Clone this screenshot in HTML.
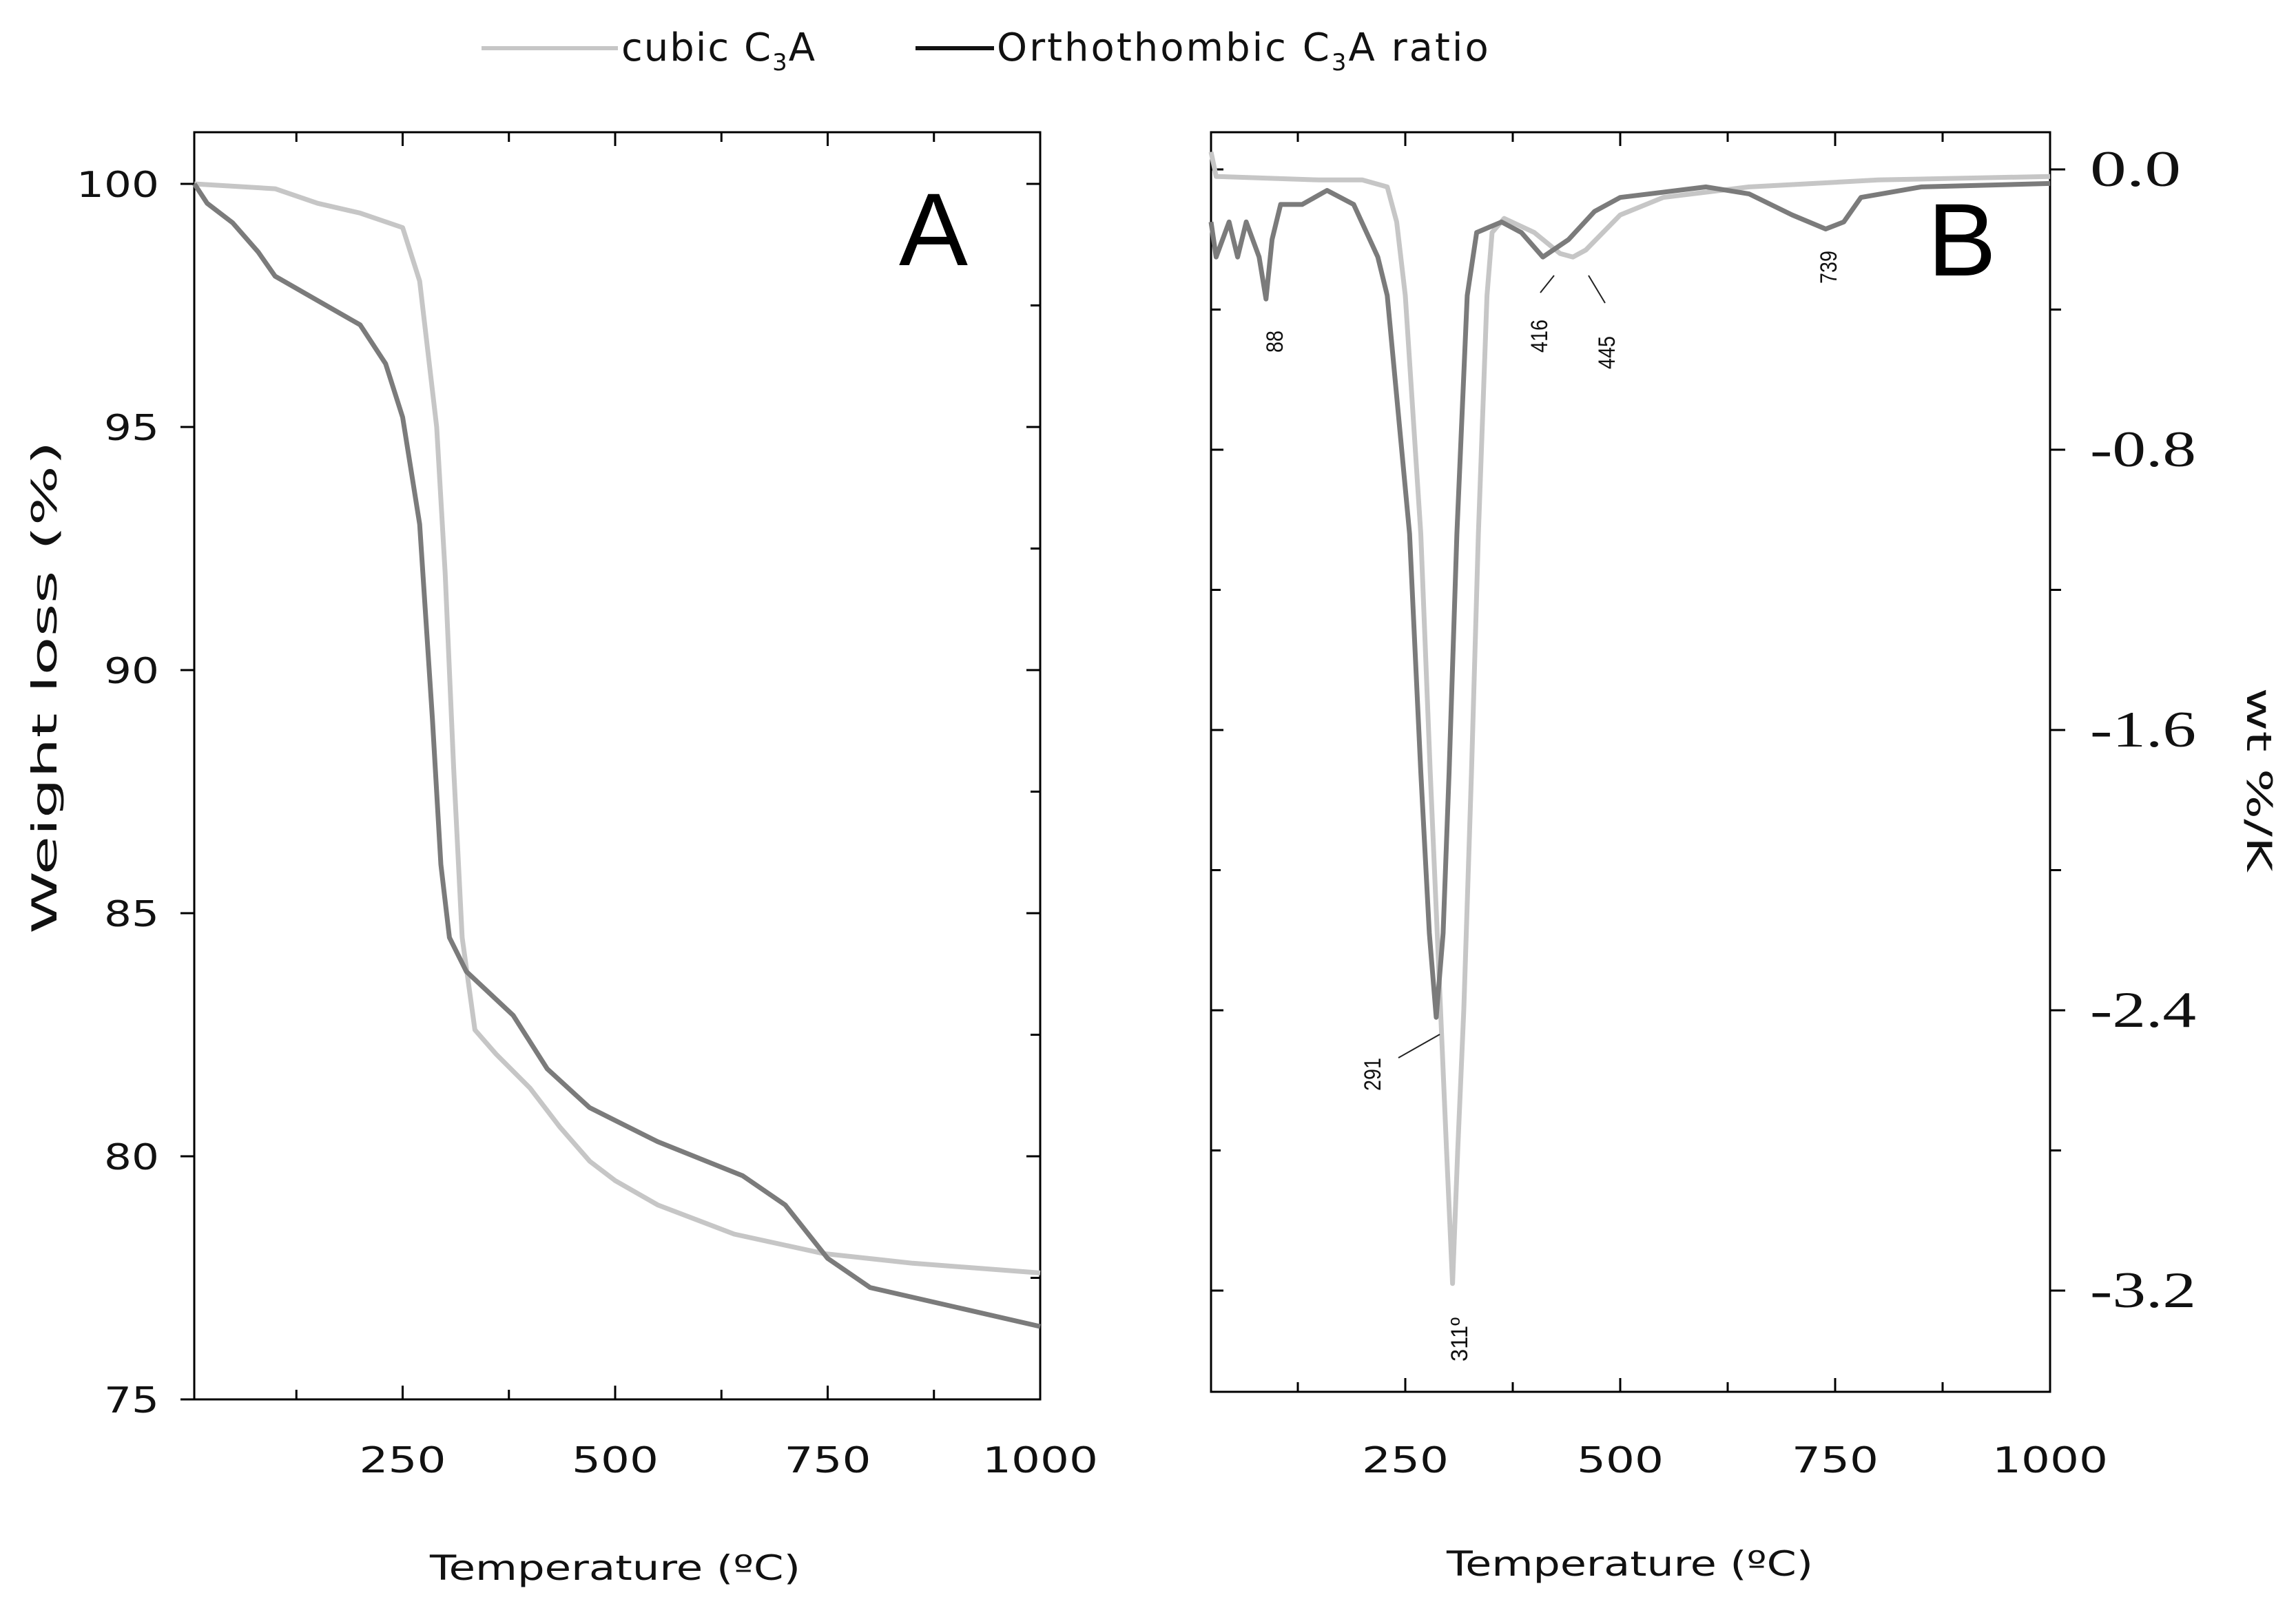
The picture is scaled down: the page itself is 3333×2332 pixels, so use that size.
<!DOCTYPE html>
<html><head><meta charset="utf-8"><style>
html,body{margin:0;padding:0;background:#fff;}
svg{display:block;}
</style></head><body>
<svg id="chart" width="3333" height="2332" viewBox="0 0 3333 2332" xmlns="http://www.w3.org/2000/svg" font-family="DejaVu Sans, Liberation Sans, sans-serif">
</svg>
<script>
// ---- Panel A (TGA) data ----
const aCubicT = [5,100,150,200,250,270,290,300,310,320,335,360,400,435,470,500,550,640,745,850,1000];
const aCubicW = [100,99.9,99.6,99.4,99.1,98,95,92,88,84.5,82.6,82.1,81.4,80.6,79.9,79.5,79.0,78.4,78.0,77.8,77.6];
const aOrthoT = [5,20,50,80,100,150,200,230,250,270,285,295,305,325,380,420,470,550,650,700,750,800,900,1000];
const aOrthoW = [100,99.6,99.2,98.6,98.1,97.6,97.1,96.3,95.2,93,89,86,84.5,83.8,82.9,81.8,81,80.3,79.6,79,77.9,77.3,76.9,76.5];
const aYTicks = [75,80,85,90,95,100];
const aXTicks = [250,500,750,1000];
// ---- Panel B (DTG) data ----
const bCubicT = [24,30,150,200,229,240,250,268,279,291,298,305,311,318,327,335,345,351,365,400,430,445,460,500,550,650,800,1000];
const bCubicD = [0.05,-0.02,-0.03,-0.03,-0.05,-0.15,-0.36,-1.04,-1.72,-2.4,-2.8,-3.18,-2.8,-2.4,-1.72,-1.04,-0.36,-0.18,-0.14,-0.18,-0.24,-0.25,-0.23,-0.13,-0.08,-0.05,-0.03,-0.02];
const bOrthoT = [24,30,45,55,65,80,88,95,105,130,159,190,218,229,255,268,278,286,294,301,310,322,333,362,385,410,440,470,500,600,650,700,739,760,780,850,1000];
const bOrthoD = [-0.15,-0.25,-0.15,-0.25,-0.15,-0.25,-0.37,-0.2,-0.1,-0.1,-0.06,-0.1,-0.25,-0.36,-1.04,-1.72,-2.18,-2.42,-2.18,-1.72,-1.04,-0.36,-0.18,-0.15,-0.18,-0.25,-0.2,-0.12,-0.08,-0.05,-0.07,-0.13,-0.17,-0.15,-0.08,-0.05,-0.04];
const bYTicks = [0.0,-0.8,-1.6,-2.4,-3.2];
const bYLabels = ["0.0","-0.8","-1.6","-2.4","-3.2"];
const bXTicks = [250,500,750,1000];
const bPeakLabels = ["88","291","311º","416","445","739"];

const NS="http://www.w3.org/2000/svg";
const svg=document.getElementById('chart');
function mk(tag,attrs,parent){const e=document.createElementNS(NS,tag);for(const k in attrs)e.setAttribute(k,attrs[k]);(parent||svg).appendChild(e);return e;}

const LIGHT="#c6c6c6", DARK="#7b7b7b";
const aX=t=>276+t*1.234, aY=w=>267+(100-w)*70.6;
const bX=t=>1728+t*1.248, bY=d=>246-d*508.75;

function path(xs,ys,fx,fy){return xs.map((t,i)=>(i?'L':'M')+fx(t).toFixed(1)+' '+fy(ys[i]).toFixed(1)).join(' ');}

let e;
// ---- Legend ----
e=mk('line',{x1:699,y1:70,x2:897,y2:70,stroke:LIGHT,'stroke-width':6});


e=mk('text',{x:902,y:88,'font-size':56,'letter-spacing':2,fill:'#111'});e.innerHTML='cubic C<tspan font-size="34" dy="14">3</tspan><tspan dy="-14">A</tspan>';


e=mk('line',{x1:1329,y1:70,x2:1443,y2:70,stroke:'#111','stroke-width':6});


e=mk('text',{x:1447,y:88,'font-size':56,'letter-spacing':3,fill:'#111'});e.innerHTML='Orthothombic C<tspan font-size="34" dy="14">3</tspan><tspan dy="-14">A ratio</tspan>';



// ---- Panel A ----
const gA=mk('g',{});


e=mk('rect',{x:282,y:192,width:1228,height:1840,fill:'none',stroke:'#000','stroke-width':3},gA);


aYTicks.forEach(v=>{
  const y=aY(v);
  mk('line',{x1:282,y1:y,x2:262,y2:y,stroke:'#000','stroke-width':3},gA);
  mk('line',{x1:1510,y1:y,x2:1490,y2:y,stroke:'#000','stroke-width':3},gA);
  if(v<100){const ym=aY(v+2.5);mk('line',{x1:1510,y1:ym,x2:1496,y2:ym,stroke:'#000','stroke-width':3},gA);}
  const s=String(v);
  e=mk('text',{x:231,y:y+19,'font-size':52,'text-anchor':'end',fill:'#111',textLength:s.length*40,lengthAdjust:'spacingAndGlyphs'},gA);e.textContent=s;
  
  
});
[125,250,375,500,625,750,875].forEach(t=>{
  const x=aX(t);const L=(t%250===0)?20:14;
  mk('line',{x1:x,y1:2032,x2:x,y2:2032-L,stroke:'#000','stroke-width':3},gA);
  mk('line',{x1:x,y1:192,x2:x,y2:192+L,stroke:'#000','stroke-width':3},gA);
});
aXTicks.forEach(t=>{
  const s=String(t);
  e=mk('text',{x:aX(t),y:2138,'font-size':52,'text-anchor':'middle',fill:'#111',textLength:s.length*42,lengthAdjust:'spacingAndGlyphs'},gA);e.textContent=s;
  
  
});
e=mk('text',{x:893,y:2294,'font-size':50,'text-anchor':'middle',fill:'#111',textLength:538,lengthAdjust:'spacingAndGlyphs'},gA);e.textContent='Temperature (ºC)';


e=mk('text',{x:0,y:0,'font-size':50,'text-anchor':'middle',fill:'#111',transform:'translate(82,998) rotate(-90)',textLength:716,lengthAdjust:'spacingAndGlyphs'},gA);e.textContent='Weight loss (%)';


e=mk('text',{x:1355,y:385,'font-size':150,'text-anchor':'middle',fill:'#000','font-family':'Liberation Sans, sans-serif'},gA);e.textContent='A';


e=mk('path',{d:path(aCubicT,aCubicW,aX,aY),fill:'none',stroke:LIGHT,'stroke-width':7,'stroke-linejoin':'round'},gA);


e=mk('path',{d:path(aOrthoT,aOrthoW,aX,aY),fill:'none',stroke:DARK,'stroke-width':7,'stroke-linejoin':'round'},gA);



// ---- Panel B ----
const gB=mk('g',{});


e=mk('rect',{x:1758,y:192,width:1218,height:1829,fill:'none',stroke:'#000','stroke-width':3},gB);


bYTicks.forEach((v,i)=>{
  const y=bY(v);
  mk('line',{x1:2976,y1:y,x2:2998,y2:y,stroke:'#000','stroke-width':3},gB);
  mk('line',{x1:1758,y1:y,x2:1776,y2:y,stroke:'#000','stroke-width':3},gB);
  if(i<bYTicks.length-1){
    const ym=bY(v-0.4);
    mk('line',{x1:2976,y1:ym,x2:2992,y2:ym,stroke:'#000','stroke-width':3},gB);
    mk('line',{x1:1758,y1:ym,x2:1772,y2:ym,stroke:'#000','stroke-width':3},gB);
  }
  const s=bYLabels[i];
  e=mk('text',{x:3034,y:y+24,'font-size':74,'font-family':'Liberation Serif, serif',fill:'#111',textLength:s.length*40-(s.startsWith('-')?6:-12),lengthAdjust:'spacingAndGlyphs'},gB);e.textContent=s;
  
  
});
[125,250,375,500,625,750,875].forEach(t=>{
  const x=bX(t);const L=(t%250===0)?20:14;
  mk('line',{x1:x,y1:2021,x2:x,y2:2021-L,stroke:'#000','stroke-width':3},gB);
  mk('line',{x1:x,y1:192,x2:x,y2:192+L,stroke:'#000','stroke-width':3},gB);
});
bXTicks.forEach(t=>{
  const s=String(t);
  e=mk('text',{x:bX(t),y:2138,'font-size':52,'text-anchor':'middle',fill:'#111',textLength:s.length*42,lengthAdjust:'spacingAndGlyphs'},gB);e.textContent=s;
  
  
});
e=mk('text',{x:2366,y:2288,'font-size':50,'text-anchor':'middle',fill:'#111',textLength:532,lengthAdjust:'spacingAndGlyphs'},gB);e.textContent='Temperature (ºC)';


e=mk('text',{x:0,y:0,'font-size':50,'text-anchor':'middle',fill:'#111',transform:'translate(3262,1132) rotate(90)',textLength:267,lengthAdjust:'spacingAndGlyphs'},gB);e.textContent='wt %/K';


e=mk('text',{x:2848,y:400,'font-size':150,'text-anchor':'middle',fill:'#000','font-family':'Liberation Sans, sans-serif'},gB);e.textContent='B';


e=mk('path',{d:path(bCubicT,bCubicD,bX,bY),fill:'none',stroke:LIGHT,'stroke-width':7,'stroke-linejoin':'round'},gB);


e=mk('path',{d:path(bOrthoT,bOrthoD,bX,bY),fill:'none',stroke:DARK,'stroke-width':7,'stroke-linejoin':'round'},gB);



// peak annotations
const ann=[[1862,496],[2004,1560],[2130,1945],[2246,488],[2344,512],[2666,388]];
ann.forEach((p,i)=>{
  const s=bPeakLabels[i];
  e=mk('text',{x:0,y:0,'font-size':34,'text-anchor':'middle',fill:'#111','font-family':'Liberation Sans Narrow, Liberation Sans, sans-serif',transform:`translate(${p[0]},${p[1]}) rotate(-90)`,textLength:s.length*16,lengthAdjust:'spacingAndGlyphs'},gB);
  e.textContent=s;
  
  
});
[[2030,1536,2090,1502],[2236,425,2256,400],[2306,400,2330,440]].forEach(l=>{
  e=mk('line',{x1:l[0],y1:l[1],x2:l[2],y2:l[3],stroke:'#222','stroke-width':2},gB);
  
  
});
</script>
</body></html>
